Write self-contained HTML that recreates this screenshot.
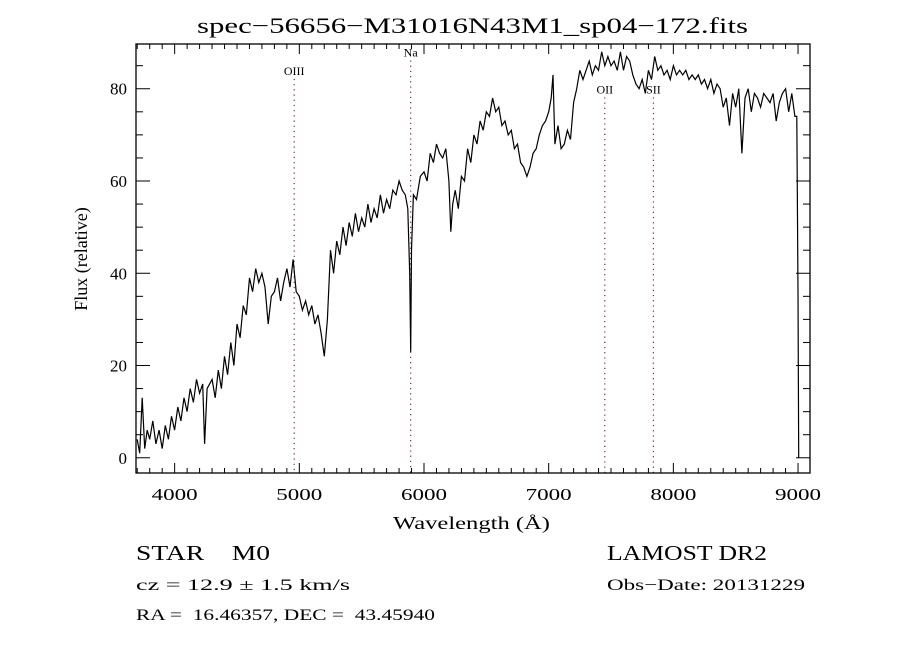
<!DOCTYPE html>
<html><head><meta charset="utf-8"><style>
body{margin:0;background:#fff;}
svg{display:block;font-family:"Liberation Serif",serif;}
text{white-space:pre;}
</style></head><body>
<svg id="c" width="900" height="650" viewBox="0 0 900 650">
<rect width="900" height="650" fill="#fff"/>
<text x="197" y="33" font-size="22" textLength="551" lengthAdjust="spacingAndGlyphs">spec−56656−M31016N43M1_sp04−172.fits</text>
<text transform="translate(87,259) rotate(-90)" font-size="18" text-anchor="middle">Flux (relative)</text>
<text x="393" y="529" font-size="18" textLength="157" lengthAdjust="spacingAndGlyphs">Wavelength (Å)</text>
<text x="136" y="560" font-size="21" textLength="134" lengthAdjust="spacingAndGlyphs">STAR    M0</text>
<text x="136" y="590" font-size="16" textLength="214" lengthAdjust="spacingAndGlyphs">cz = 12.9 ± 1.5 km/s</text>
<text x="136" y="620" font-size="16" textLength="299" lengthAdjust="spacingAndGlyphs">RA =  16.46357, DEC =  43.45940</text>
<text x="607" y="560" font-size="21" textLength="160" lengthAdjust="spacingAndGlyphs">LAMOST DR2</text>
<text x="607" y="590" font-size="16" textLength="198" lengthAdjust="spacingAndGlyphs">Obs−Date: 20131229</text>
<g id="plot"></g>
</svg>
<script>
const xTicks=[4000,5000,6000,7000,8000,9000];
const yTicks=[0,20,40,60,80];
const lineNames=["OIII","Na","OII","SII"];
const lineWaves=[4959,5893,7450,7840];
const lineLabelFlux=[83,87,79,79];
const wave=[3700,3720,3740,3760,3780,3800,3825,3850,3875,3900,3925,3950,3975,4000,4025,4050,4075,4100,4125,4150,4175,4200,4225,4240,4260,4300,4325,4350,4375,4400,4425,4450,4475,4500,4525,4550,4575,4600,4625,4650,4675,4700,4725,4750,4775,4800,4825,4850,4875,4900,4925,4950,4975,5000,5025,5050,5075,5100,5125,5150,5175,5200,5225,5250,5275,5300,5325,5350,5375,5400,5425,5450,5475,5500,5525,5550,5575,5600,5625,5650,5675,5700,5725,5750,5775,5800,5825,5850,5870,5885,5893,5900,5915,5940,5970,6000,6025,6050,6075,6100,6125,6150,6175,6200,6215,6230,6250,6275,6300,6325,6350,6375,6400,6425,6450,6475,6500,6525,6550,6575,6600,6625,6650,6675,6700,6725,6750,6775,6800,6825,6850,6875,6900,6925,6950,6975,7000,7020,7035,7050,7075,7100,7125,7150,7175,7200,7225,7250,7275,7300,7325,7350,7375,7400,7425,7450,7475,7500,7525,7550,7575,7600,7625,7650,7675,7700,7725,7750,7775,7800,7825,7850,7875,7900,7925,7950,7975,8000,8025,8050,8075,8100,8125,8150,8175,8200,8225,8250,8275,8300,8325,8350,8375,8400,8425,8450,8475,8500,8525,8550,8575,8600,8625,8650,8675,8700,8725,8750,8775,8800,8825,8850,8875,8900,8925,8950,8975,8990,9000,9005];
const flux=[4,1,13,2,6,4,8,3,6,2,7,4,9,6,11,8,13,10,15,12,17,14,16,3,15,17,13,19,15,22,18,25,20,29,26,33,31,39,36,41,38,40,37,29,35,36,39,34,38,41,37,43,36,35,32,34,31,33,29,31,27,22,30,45,40,47,44,50,46,51,48,53,49,52,50,55,51,54,52,57,53,56,54,58,57,60,58,57,54,40,23,45,57,56,61,62,60,66,64,68,66,65,67,60,49,55,58,54,61,60,67,64,70,68,73,71,75,74,78,75,76,72,73,70,71,67,68,64,63,61,63,66,67,70,72,73,75,78,83,68,72,67,68,71,69,77,80,84,82,84,86,83,85,84,88,85,87,85,86,84,88,84,87,86,83,81,80,82,79,84,82,87,84,85,83,84,82,85,83,84,83,84,82,83,82,83,81,82,80,82,79,81,80,76,78,72,79,76,80,66,78,80,75,79,78,76,79,78,77,79,73,77,79,80,75,79,74,74,36,0];
const NS="http://www.w3.org/2000/svg";
const g=document.getElementById('plot');
const L=136,R=810,T=44,B=473;
const xMin=3690,xMax=9096,yMin=-3.3,yMax=89.7;
const xs=v=>L+(v-xMin)/(xMax-xMin)*(R-L);
const ys=v=>B-(v-yMin)/(yMax-yMin)*(B-T);
function mk(tag,attrs){const e=document.createElementNS(NS,tag);for(const k in attrs)e.setAttribute(k,attrs[k]);g.appendChild(e);return e;}
lineWaves.forEach((w,i)=>{
  const l=mk('line',{x1:xs(w),x2:xs(w),y1:ys(lineLabelFlux[i])+4,y2:B,stroke:'#7a2a2a','stroke-width':1.2,'stroke-dasharray':'1.2,4'});
  
  
  const t=mk('text',{x:xs(w),y:ys(lineLabelFlux[i]),'font-size':12,'text-anchor':'middle'});
  t.textContent=lineNames[i];
  
  
});
let d='';wave.forEach((w,i)=>{d+=(i?'L':'M')+xs(w).toFixed(1)+','+ys(flux[i]).toFixed(1);});
const p=mk('path',{d:d,fill:'none',stroke:'#000','stroke-width':1.2});


const f=mk('rect',{x:L,y:T,width:R-L,height:B-T,fill:'none',stroke:'#000','stroke-width':1.3});


for(let w=3700;w<=9000;w+=100){
  const major=w%1000===0,len=major?10:5,x=xs(w);
  const a=mk('line',{x1:x,x2:x,y1:B,y2:B-len,stroke:'#000'});
  
  
  const b=mk('line',{x1:x,x2:x,y1:T,y2:T+len,stroke:'#000'});
  
  
}
xTicks.forEach(v=>{const t=mk('text',{x:xs(v)-23,y:500,'font-size':17,textLength:46,lengthAdjust:'spacingAndGlyphs'});t.textContent=v;
  
  });
for(let v=0;v<=85;v+=5){
  const major=v%20===0,len=major?14:7,y=ys(v);
  const a=mk('line',{x1:L,x2:L+len,y1:y,y2:y,stroke:'#000'});
  
  
  const b=mk('line',{x1:R,x2:R-len,y1:y,y2:y,stroke:'#000'});
  
  
}
yTicks.forEach(v=>{const t=mk('text',{x:127,y:ys(v)+6,'font-size':17,'text-anchor':'end'});t.textContent=v;
  
  });
</script>
</body></html>
